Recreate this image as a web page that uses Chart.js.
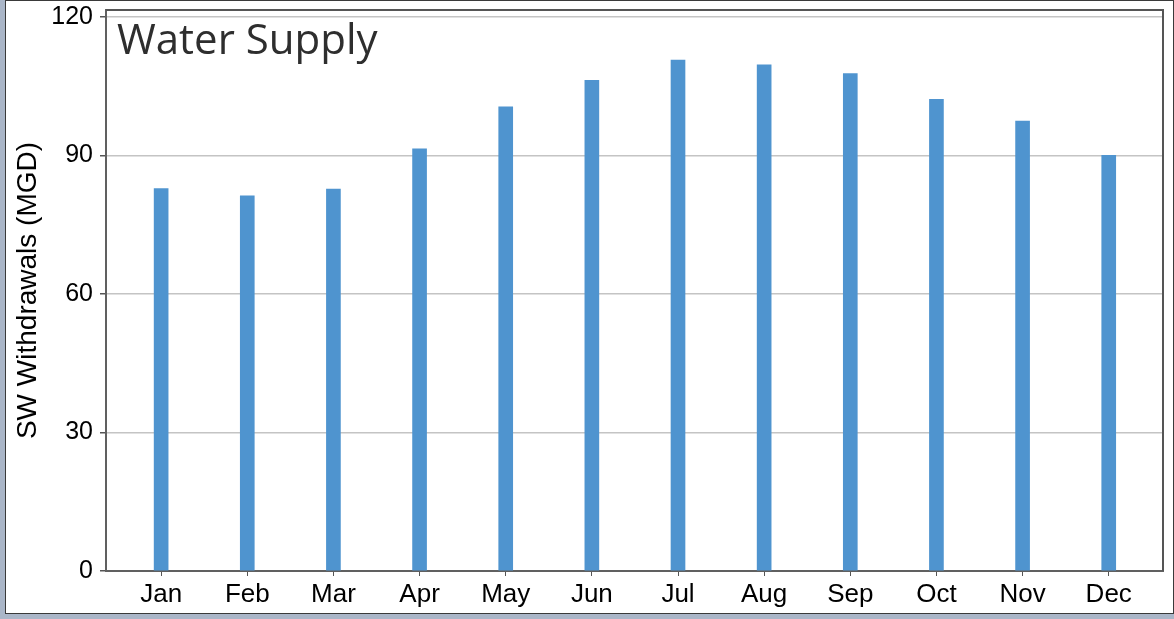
<!DOCTYPE html>
<html>
<head>
<meta charset="utf-8">
<script src="https://cdn.jsdelivr.net/npm/chart.js@4"></script>
<style>
  html, body { margin: 0; padding: 0; background: #aab6c8; }
  #frame { position: absolute; left: 5px; top: 0; width: 1169px; height: 614px;
           box-sizing: border-box; border: 1.5px solid #3a3a3a; background: #fff; }
  #wrap { position: absolute; left: 0; top: 0; width: 1174px; height: 619px; }
</style>
</head>
<body>
<div id="frame"></div>
<div id="wrap"><canvas id="myChart" width="1174" height="619"></canvas></div>
<script>
/* monthly surface water withdrawals */
const months = ['Jan', 'Feb', 'Mar', 'Apr', 'May', 'Jun', 'Jul', 'Aug', 'Sep', 'Oct', 'Nov', 'Dec'];
const withdrawals = [82.8, 81.2, 82.7, 91.4, 100.5, 106.2, 110.6, 109.6, 107.7, 102.1, 97.4, 90.0];
const yTicks = [0, 30, 60, 90, 120];

const chartTitle = 'Water Supply';
const yAxisLabel = 'SW Withdrawals (MGD)';

// title inside the plot + frame on top/right
const framePlugin = {
  id: 'framePlugin',
  afterDraw(chart) {
    const ctx = chart.ctx;
    const a = chart.chartArea;
    ctx.save();
    ctx.strokeStyle = '#555';
    ctx.lineWidth = 2;
    ctx.beginPath();
    ctx.moveTo(a.left, a.top);
    ctx.lineTo(a.right, a.top);
    ctx.lineTo(a.right, a.bottom);
    ctx.stroke();
    ctx.fillStyle = '#2e2e2e';
    ctx.font = '42px "Open Sans"';
    ctx.textBaseline = 'alphabetic';
    ctx.fillText(chartTitle, a.left + 11, a.top + 44);
    ctx.restore();
  }
};

const ctx = document.getElementById('myChart').getContext('2d');
new Chart(ctx, {
  type: 'bar',
  data: {
    datasets: [{
      data: withdrawals.map((v, i) => ({ x: i, y: v })),
      backgroundColor: '#4f94cf',
      borderWidth: 0,
      barThickness: 14
    }]
  },
  options: {
    responsive: false,
    animation: false,
    layout: { padding: { left: 0, right: 11, top: 10, bottom: 0 } },
    plugins: { legend: { display: false }, tooltip: { enabled: false } },
    scales: {
      x: {
        type: 'linear',
        offset: false,
        min: -0.64,
        max: 11.63,
        afterBuildTicks: s => { s.ticks = months.map((m, i) => ({ value: i })); },
        afterFit: s => { s.height = 48; s.paddingLeft = 0; s.paddingRight = 0; },
        grid: { offset: false, drawOnChartArea: false, drawTicks: true, tickLength: 5, tickColor: '#555' },
        border: { color: '#606060', width: 2 },
        ticks: {
          color: '#000',
          padding: 3,
          maxRotation: 0,
          font: { family: '"Liberation Sans", Arial', size: 26 },
          callback: v => months[v]
        }
      },
      y: {
        min: 0,
        max: 121.45,
        afterBuildTicks: s => { s.ticks = yTicks.map(v => ({ value: v })); },
        afterFit: s => { s.width = 106; s.paddingTop = 0; s.paddingBottom = 0; },
        grid: { color: '#c4c4c4', lineWidth: 1.5, tickLength: 6, tickColor: '#555' },
        border: { color: '#606060', width: 2 },
        ticks: {
          color: '#000',
          padding: 7,
          font: { family: '"Liberation Sans", Arial', size: 25 }
        },
        title: {
          display: true,
          text: yAxisLabel,
          color: '#000',
          padding: { top: 11, bottom: 0 },
          font: { family: '"Liberation Sans", Arial', size: 28 }
        }
      }
    }
  },
  plugins: [framePlugin]
});
</script>
</body>
</html>
